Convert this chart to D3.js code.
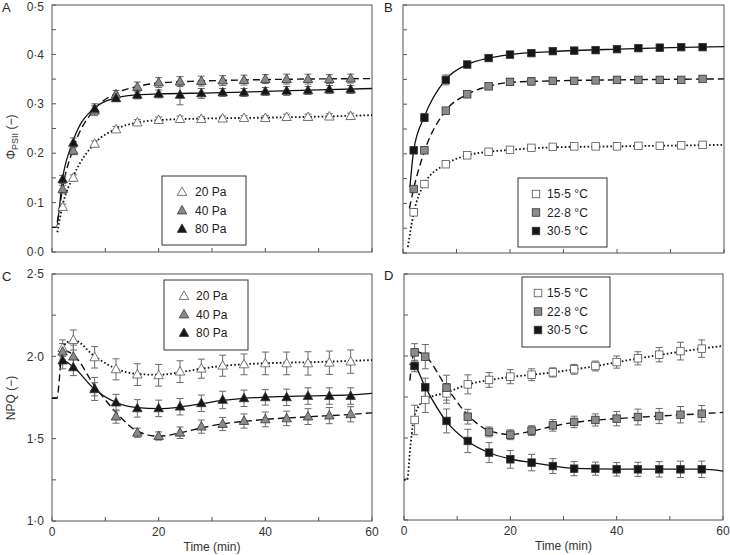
<!DOCTYPE html>
<html><head><meta charset="utf-8">
<script src="https://cdn.jsdelivr.net/npm/d3@7"></script>
<style>body{margin:0;background:#fff}</style>
</head><body><svg id="c" width="730" height="555"></svg>
<script>
// ---------- DATA ----------
const times = [2,4,8,12,16,20,24,28,32,36,40,44,48,52,56];

// Panel A : PhiPSII vs time, CO2 partial pressure
const aLabels = ["20 Pa","40 Pa","80 Pa"];
const a20  = [0.091,0.150,0.219,0.248,0.262,0.267,0.269,0.269,0.270,0.271,0.271,0.273,0.273,0.274,0.275];
const a20e = [0.006,0.006,0.006,0.006,0.006,0.006,0.006,0.005,0.005,0.005,0.005,0.006,0.006,0.006,0.006];
const a40  = [0.127,0.205,0.286,0.319,0.334,0.343,0.345,0.346,0.347,0.348,0.350,0.350,0.350,0.350,0.351];
const a40e = [0.008,0.008,0.010,0.008,0.010,0.010,0.010,0.010,0.010,0.010,0.009,0.010,0.010,0.009,0.009];
const a80  = [0.147,0.221,0.290,0.311,0.318,0.320,0.318,0.321,0.323,0.323,0.325,0.326,0.327,0.329,0.329];
const a80e = [0.008,0.010,0.010,0.006,0.008,0.008,0.020,0.010,0.008,0.008,0.008,0.009,0.008,0.008,0.008];
const a20fit = [[1,0.040],[2,0.095],[4,0.153],[8,0.220],[12,0.249],[16,0.262],[20,0.267],[28,0.270],[40,0.272],[50,0.274],[60,0.277]];
const a40fit = [[1,0.060],[2,0.130],[4,0.210],[8,0.289],[12,0.321],[16,0.335],[20,0.342],[28,0.346],[40,0.349],[60,0.351]];
const a80fit = [[0,0.050],[0.8,0.050],[2,0.150],[4,0.226],[8,0.292],[12,0.312],[16,0.318],[20,0.320],[30,0.322],[40,0.325],[50,0.328],[60,0.331]];

// Panel B : PhiPSII vs time, leaf temperature
const bLabels = ["15·5 °C","22·8 °C","30·5 °C"];
const b15  = [0.082,0.139,0.179,0.197,0.204,0.208,0.212,0.214,0.215,0.215,0.215,0.216,0.216,0.217,0.218];
const b15e = [0.004,0.004,0.004,0.004,0.004,0.004,0.004,0.004,0.004,0.004,0.004,0.004,0.004,0.004,0.004];
const b22  = [0.129,0.207,0.287,0.320,0.336,0.345,0.346,0.347,0.347,0.348,0.349,0.349,0.349,0.349,0.351];
const b22e = [0.005,0.005,0.006,0.005,0.005,0.006,0.007,0.006,0.005,0.006,0.006,0.005,0.005,0.005,0.005];
const b30  = [0.207,0.273,0.349,0.380,0.393,0.400,0.403,0.407,0.408,0.409,0.411,0.413,0.414,0.415,0.415];
const b30e = [0.006,0.008,0.010,0.006,0.005,0.005,0.005,0.005,0.005,0.005,0.005,0.005,0.005,0.005,0.005];
const b15fit = [[0.9,0.012],[2,0.080],[4,0.140],[8,0.179],[12,0.197],[16,0.204],[20,0.208],[28,0.213],[40,0.215],[60,0.218]];
const b22fit = [[1.2,0.090],[2,0.130],[4,0.205],[8,0.287],[12,0.320],[16,0.336],[20,0.344],[28,0.347],[40,0.349],[60,0.351]];
const b30fit = [[1.3,0.133],[2,0.207],[4,0.275],[8,0.350],[12,0.380],[16,0.393],[20,0.400],[28,0.406],[40,0.411],[50,0.414],[60,0.416]];

// Panel C : NPQ vs time, CO2 partial pressure
const c20  = [2.050,2.099,1.994,1.921,1.889,1.885,1.907,1.925,1.943,1.951,1.957,1.957,1.957,1.961,1.968];
const c20e = [0.050,0.061,0.065,0.064,0.066,0.066,0.066,0.058,0.064,0.063,0.069,0.069,0.071,0.071,0.071];
const c40  = [2.028,1.998,1.800,1.634,1.536,1.516,1.536,1.573,1.589,1.607,1.617,1.623,1.634,1.640,1.648];
const c40e = [0.050,0.070,0.040,0.040,0.028,0.025,0.035,0.040,0.040,0.043,0.045,0.044,0.048,0.049,0.046];
const c80  = [1.974,1.933,1.802,1.719,1.684,1.684,1.694,1.715,1.735,1.745,1.751,1.751,1.759,1.759,1.759];
const c80e = [0.050,0.050,0.070,0.050,0.053,0.050,0.050,0.050,0.053,0.050,0.047,0.050,0.050,0.050,0.050];
const c20fit = [[1.5,2.030],[2,2.055],[4,2.100],[8,2.000],[12,1.925],[16,1.893],[20,1.888],[24,1.903],[28,1.925],[32,1.942],[36,1.952],[40,1.958],[50,1.966],[60,1.977]];
const c40fit = [[0,1.745],[0.9,1.745],[2,2.035],[4,2.010],[8,1.820],[12,1.660],[16,1.545],[20,1.515],[24,1.535],[28,1.565],[32,1.590],[36,1.605],[40,1.617],[48,1.633],[56,1.647],[60,1.657]];
const c80fit = [[1.4,1.940],[2,1.975],[4,1.935],[8,1.800],[12,1.720],[16,1.688],[20,1.682],[24,1.692],[28,1.712],[32,1.732],[36,1.745],[40,1.752],[48,1.760],[56,1.766],[60,1.775]];

// Panel D : NPQ vs time, leaf temperature
const d15  = [1.610,1.732,1.772,1.827,1.854,1.874,1.886,1.900,1.919,1.939,1.963,1.986,2.008,2.030,2.045];
const d15e = [0.090,0.076,0.060,0.058,0.045,0.043,0.036,0.028,0.030,0.030,0.037,0.040,0.044,0.054,0.053];
const d22  = [2.022,1.996,1.807,1.630,1.537,1.520,1.545,1.577,1.598,1.610,1.618,1.628,1.634,1.642,1.648];
const d22e = [0.053,0.074,0.076,0.045,0.030,0.030,0.030,0.035,0.035,0.037,0.044,0.048,0.046,0.050,0.050];
const d30  = [1.939,1.809,1.604,1.482,1.411,1.370,1.350,1.329,1.313,1.313,1.309,1.309,1.309,1.309,1.309];
const d30e = [0.035,0.056,0.073,0.071,0.061,0.054,0.050,0.045,0.043,0.040,0.041,0.043,0.047,0.050,0.050];
const d15fit = [[0,1.245],[0.6,1.245],[1.2,1.450],[2,1.640],[4,1.735],[8,1.777],[12,1.826],[16,1.853],[20,1.872],[24,1.886],[28,1.900],[32,1.918],[36,1.938],[40,1.962],[44,1.985],[48,2.006],[52,2.027],[56,2.045],[60,2.062]];
const d22fit = [[1.1,1.850],[2,2.030],[4,2.000],[8,1.810],[12,1.640],[16,1.545],[20,1.522],[24,1.542],[28,1.572],[32,1.595],[36,1.609],[40,1.618],[48,1.634],[56,1.648],[60,1.656]];
const d30fit = [[1,1.950],[2,1.940],[4,1.810],[8,1.600],[12,1.480],[16,1.410],[20,1.372],[24,1.350],[28,1.330],[32,1.315],[40,1.310],[56,1.310],[60,1.298]];

const xTicksMajor = [0,20,40,60];
const xTicksMinor = [10,30,50];
const phiTickLabels = ["0·0","0·1","0·2","0·3","0·4","0·5"];
const npqTickLabels = ["1·0","1·5","2·0","2·5"];

// ---------- DRAW ----------
const svg = d3.select("#c");
const FONT = "'Liberation Sans', Arial, Helvetica, sans-serif";
const FS = 12;
const fillOf = {white:"#ffffff", gray:"#8a8a8a", black:"#161616"};
const dashOf = {dotted:"1.6,2.2", dashed:"7,4", solid:null};
const widthOf = {dotted:1.8, dashed:1.4, solid:1.3};

function marker(g, shape, fill, cx, cy) {
  if (shape === "tri") {
    const s = 9.5, h = 8.5;
    g.append("path")
      .attr("d", `M${cx},${cy - h*0.6}L${cx + s/2},${cy + h*0.4}L${cx - s/2},${cy + h*0.4}Z`)
      .attr("fill", fillOf[fill]).attr("stroke", fill==="white" ? "#555" : "#333").attr("stroke-width", 0.8);
  } else {
    const s = 7.5;
    g.append("rect").attr("x", cx - s/2).attr("y", cy - s/2).attr("width", s).attr("height", s)
      .attr("fill", fillOf[fill]).attr("stroke", fill==="white" ? "#555" : "#333").attr("stroke-width", 0.8);
  }
}

function panel(cfg) {
  const x = d3.scaleLinear().domain([0,60]).range([cfg.x0, cfg.x1]);
  const y = d3.scaleLinear().domain(cfg.ydom).range([cfg.y1, cfg.y0]);
  const g = svg.append("g");

  const tickLen = 4;
  cfg.yticks.forEach(v => {
    g.append("line").attr("x1", cfg.x0).attr("x2", cfg.x0 + tickLen)
      .attr("y1", y(v)).attr("y2", y(v)).attr("stroke", "#555").attr("stroke-width", 1);
  });
  xTicksMajor.concat(xTicksMinor).forEach(v => {
    g.append("line").attr("x1", x(v)).attr("x2", x(v))
      .attr("y1", cfg.y1).attr("y2", cfg.y1 - tickLen).attr("stroke", "#555").attr("stroke-width", 1);
  });
  g.append("rect").attr("x", cfg.x0).attr("y", cfg.y0)
    .attr("width", cfg.x1 - cfg.x0).attr("height", cfg.y1 - cfg.y0)
    .attr("fill", "none").attr("stroke", "#555").attr("stroke-width", 1);

  if (cfg.ylabels) {
    cfg.ylabelVals.forEach((v, i) => {
      g.append("text").attr("x", cfg.x0 - 8).attr("y", Math.max(y(v), 7)).attr("dy", "0.35em")
        .attr("text-anchor", "end").attr("font-family", FONT).attr("font-size", FS)
        .attr("fill", "#333").text(cfg.ylabelText[i]);
    });
  }
  if (cfg.xlabels) {
    xTicksMajor.forEach(v => {
      g.append("text").attr("x", x(v)).attr("y", cfg.y1 + 15)
        .attr("text-anchor", "middle").attr("font-family", FONT).attr("font-size", FS)
        .attr("fill", "#333").text(v);
    });
    g.append("text").attr("x", (cfg.x0 + cfg.x1)/2).attr("y", cfg.y1 + 30)
      .attr("text-anchor", "middle").attr("font-family", FONT).attr("font-size", FS)
      .attr("fill", "#333").text("Time (min)");
  }
  g.append("text").attr("x", cfg.lx).attr("y", cfg.ly).attr("font-family", FONT)
    .attr("font-size", 13).attr("fill", "#222").text(cfg.letter);

  const line = d3.line().x(d => x(d[0])).y(d => y(d[1])).curve(d3.curveMonotoneX);
  cfg.series.forEach(s => {
    g.append("path").attr("d", line(s.fit)).attr("fill", "none")
      .attr("stroke", "#111").attr("stroke-width", widthOf[s.style])
      .attr("stroke-dasharray", dashOf[s.style]);
  });
  cfg.series.forEach(s => {
    times.forEach((t, i) => {
      const cx = x(t), lo = y(s.vals[i] - s.err[i]), hi = y(s.vals[i] + s.err[i]);
      const eg = g.append("g").attr("stroke", "#6a6a6a").attr("stroke-width", 1);
      eg.append("line").attr("x1", cx).attr("x2", cx).attr("y1", lo).attr("y2", hi);
      eg.append("line").attr("x1", cx - 3.5).attr("x2", cx + 3.5).attr("y1", lo).attr("y2", lo);
      eg.append("line").attr("x1", cx - 3.5).attr("x2", cx + 3.5).attr("y1", hi).attr("y2", hi);
    });
  });
  cfg.series.forEach(s => {
    times.forEach((t, i) => marker(g, cfg.shape, s.fill, x(t), y(s.vals[i])));
  });

  const L = cfg.legend;
  g.append("rect").attr("x", L.x).attr("y", L.y).attr("width", L.w).attr("height", L.h)
    .attr("fill", "#fff").attr("stroke", "#333").attr("stroke-width", 1);
  cfg.series.forEach((s, i) => {
    const yy = L.y + 16 + i * 18.5;
    marker(g, cfg.shape, s.fill, L.x + L.mx, yy);
    g.append("text").attr("x", L.x + L.tx).attr("y", yy).attr("dy", "0.36em")
      .attr("font-family", FONT).attr("font-size", FS).attr("fill", "#222").text(cfg.labels[i]);
  });
}

const phiTicks = d3.range(0, 11).map(i => i * 0.05);
const npqTicks = d3.range(0, 7).map(i => 1 + i * 0.25);

panel({x0:52, x1:372, y0:5, y1:252, ydom:[0,0.5], yticks:phiTicks,
  ylabels:true, ylabelVals:[0,0.1,0.2,0.3,0.4,0.5], ylabelText:phiTickLabels,
  xlabels:false, letter:"A", lx:2, ly:12, shape:"tri", labels:aLabels,
  series:[{vals:a20, err:a20e, fit:a20fit, fill:"white", style:"dotted"},
          {vals:a40, err:a40e, fit:a40fit, fill:"gray", style:"dashed"},
          {vals:a80, err:a80e, fit:a80fit, fill:"black", style:"solid"}],
  legend:{x:162, y:176, w:84, h:69, mx:20, tx:33}});

panel({x0:403, x1:724, y0:5, y1:253, ydom:[0,0.5], yticks:phiTicks,
  ylabels:false, xlabels:false, letter:"B", lx:384, ly:12, shape:"sq", labels:bLabels,
  series:[{vals:b15, err:b15e, fit:b15fit, fill:"white", style:"dotted"},
          {vals:b22, err:b22e, fit:b22fit, fill:"gray", style:"dashed"},
          {vals:b30, err:b30e, fit:b30fit, fill:"black", style:"solid"}],
  legend:{x:518, y:178, w:89, h:69, mx:18, tx:29}});

panel({x0:52, x1:372, y0:274, y1:521, ydom:[1,2.5], yticks:npqTicks,
  ylabels:true, ylabelVals:[1,1.5,2,2.5], ylabelText:npqTickLabels,
  xlabels:true, letter:"C", lx:2, ly:281, shape:"tri", labels:aLabels,
  series:[{vals:c20, err:c20e, fit:c20fit, fill:"white", style:"dotted"},
          {vals:c40, err:c40e, fit:c40fit, fill:"gray", style:"dashed"},
          {vals:c80, err:c80e, fit:c80fit, fill:"black", style:"solid"}],
  legend:{x:164, y:280, w:84, h:70, mx:20, tx:32}});

panel({x0:404, x1:723, y0:274, y1:520, ydom:[1,2.5], yticks:npqTicks,
  ylabels:false, xlabels:true, letter:"D", lx:384, ly:280, shape:"sq", labels:bLabels,
  series:[{vals:d15, err:d15e, fit:d15fit, fill:"white", style:"dotted"},
          {vals:d22, err:d22e, fit:d22fit, fill:"gray", style:"dashed"},
          {vals:d30, err:d30e, fit:d30fit, fill:"black", style:"solid"}],
  legend:{x:522, y:277, w:88, h:70, mx:16, tx:25}});

const t1 = svg.append("text").attr("transform", "translate(15,137) rotate(-90)")
  .attr("text-anchor", "middle").attr("font-family", FONT).attr("font-size", FS).attr("fill", "#333");
t1.append("tspan").text("Φ");
t1.append("tspan").attr("font-size", 9).attr("dy", 3).text("PSII");
t1.append("tspan").attr("dy", -3).text(" (−)");
svg.append("text").attr("transform", "translate(15,398) rotate(-90)")
  .attr("text-anchor", "middle").attr("font-family", FONT).attr("font-size", FS).attr("fill", "#333")
  .text("NPQ (−)");
</script>
</body></html>
